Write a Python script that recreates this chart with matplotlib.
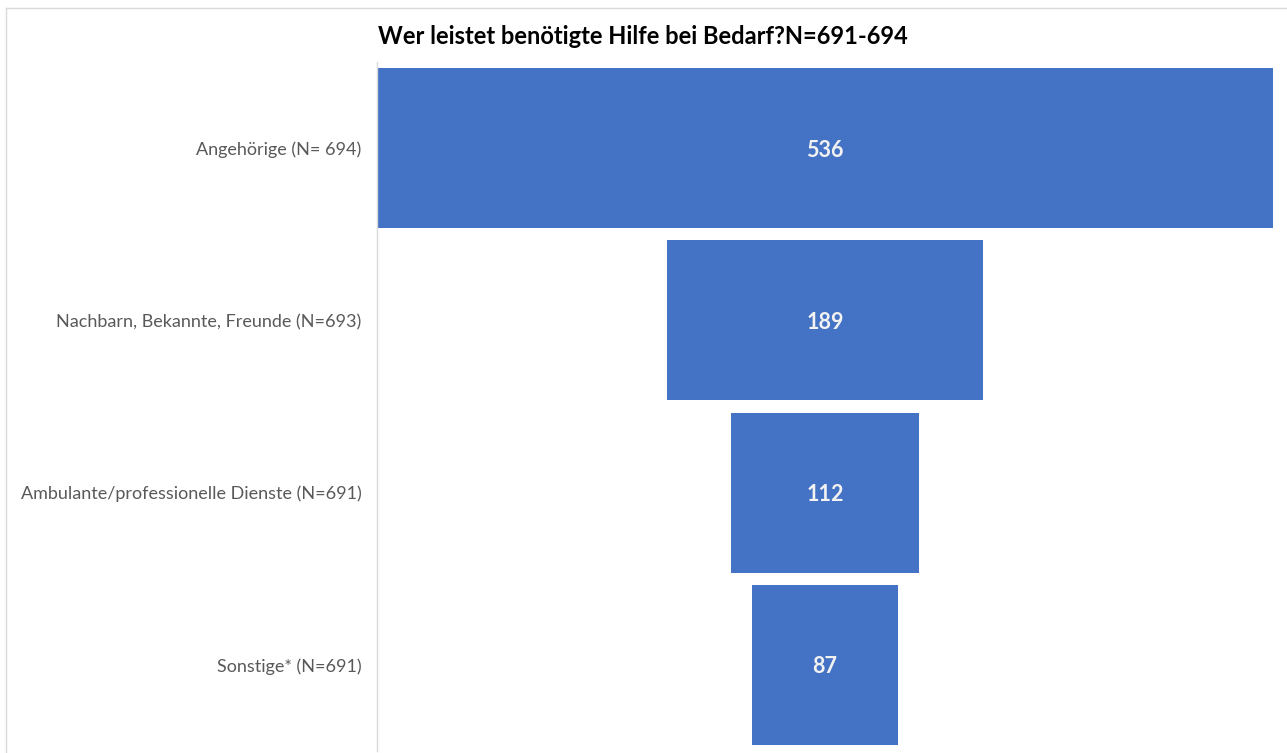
import matplotlib.pyplot as plt
from matplotlib.lines import Line2D

categories = [
    "Angehörige (N= 694)",
    "Nachbarn, Bekannte, Freunde (N=693)",
    "Ambulante/professionelle Dienste (N=691)",
    "Sonstige* (N=691)",
]
values = [536, 189, 112, 87]
title = "Wer leistet benötigte Hilfe bei Bedarf?N=691-694"

W, H = 1287, 753
fig = plt.figure(figsize=(W / 100, H / 100), dpi=100)
plt.rcParams["font.family"] = ["Lato", "DejaVu Sans"]

ax = fig.add_axes([377 / W, 1 - 751 / H, (1273 - 377) / W, (751 - 62) / H])

ypos = list(range(len(values)))
lefts = [-v / 2 for v in values]
ax.barh(ypos, values, left=lefts, height=0.93, color="#4472C4")
for y, v in zip(ypos, values):
    ax.text(0, y, str(v), ha="center", va="center_baseline", color="#F2F2F2",
            fontsize=15.5, fontweight="bold")

ax.set_xlim(-max(values) / 2, max(values) / 2)
ax.set_ylim(len(values) - 0.5, -0.5)
ax.set_yticks(ypos)
ax.set_yticklabels(categories, fontsize=13, color="#595959",
                   va="center_baseline")
ax.tick_params(axis="y", length=0, pad=11)
ax.set_xticks([])
for s in ["top", "right", "bottom"]:
    ax.spines[s].set_visible(False)
ax.spines["left"].set_color("#D9D9D9")
ax.spines["left"].set_linewidth(1.0)

fig.text(378 / W, 1 - 37 / H, title, ha="left", va="center",
         fontsize=17, fontweight="bold", color="#000000")

# outer chart frame (top and left edges visible)
fig.add_artist(Line2D([6 / W, 1], [1 - 8 / H, 1 - 8 / H], color="#D9D9D9", lw=1))
fig.add_artist(Line2D([6 / W, 6 / W], [0, 1 - 8 / H], color="#D9D9D9", lw=1))

fig.savefig("out.png", dpi=100)
